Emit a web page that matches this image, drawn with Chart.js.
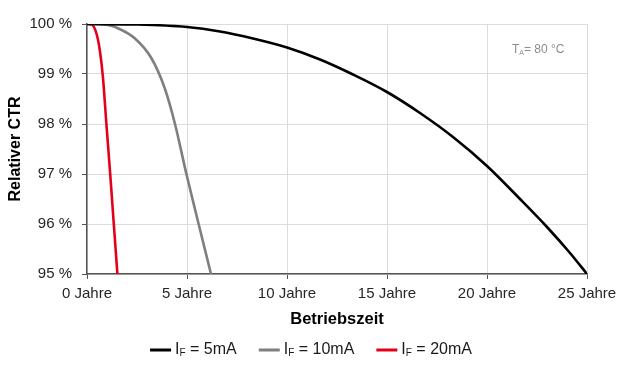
<!DOCTYPE html>
<html>
<head>
<meta charset="utf-8">
<script src="https://cdn.jsdelivr.net/npm/chart.js@4"></script>
<style>
  html, body { margin: 0; padding: 0; background: #fff; }
  #wrap { width: 630px; height: 370px; position: relative; }
</style>
</head>
<body>
<div id="wrap"><canvas id="chart"></canvas></div>
<script>
const FONT = '"Liberation Sans", Arial, sans-serif'

// Betriebszeit in Jahren / relativer CTR in %
const years5mA = [0, 2.5, 5, 6.65, 8.3, 10, 11.65, 13.3, 15, 16.65, 18.3, 20, 21.65, 23, 24.15, 25]
const ctr5mA = [100, 99.99, 99.94, 99.85, 99.71, 99.53, 99.29, 98.99, 98.64, 98.22, 97.74, 97.16, 96.5, 95.94, 95.42, 95]

const years10mA = [0, 0.9, 1.57, 2.4, 3.23, 3.9, 4.4, 4.97, 5.6, 6.2]
const ctr10mA = [100, 99.99, 99.91, 99.71, 99.31, 98.7, 98.0, 97, 95.97, 95]

const years20mA = [0, 0.23, 0.48, 0.65, 0.8, 0.97, 1.16, 1.34, 1.52]
const ctr20mA = [100, 99.99, 99.8, 99.45, 98.92, 98.0, 97, 96, 95]

const seriesNames = ['5mA', '10mA', '20mA']
const seriesColors = ['#000000', '#7f7f7f', '#e3001b']

const xTicks = [0, 5, 10, 15, 20, 25]
const yTicks = [95, 96, 97, 98, 99, 100]

const toPoints = (xs, ys) => xs.map((x, i) => ({ x: x, y: ys[i] }))

const datasets = [
  toPoints(years5mA, ctr5mA),
  toPoints(years10mA, ctr10mA),
  toPoints(years20mA, ctr20mA)
].map((pts, i) => ({
  label: 'IF = ' + seriesNames[i],
  data: pts,
  borderColor: seriesColors[i],
  backgroundColor: seriesColors[i],
  borderWidth: 2.6,
  pointRadius: 0,
  showLine: true,
  cubicInterpolationMode: 'monotone'
}))

// "I" with subscript "F" etc. drawn at (x, y), returns end x
const drawSub = (ctx, x, y, main, sub, rest, size) => {
  ctx.font = size + 'px ' + FONT
  ctx.fillText(main, x, y)
  x += ctx.measureText(main).width
  ctx.font = Math.round(size * 0.6) + 'px ' + FONT
  ctx.fillText(sub, x, y + size * 0.22)
  x += ctx.measureText(sub).width
  ctx.font = size + 'px ' + FONT
  ctx.fillText(rest, x, y)
  return x + ctx.measureText(rest).width
}

const subWidth = (ctx, main, sub, rest, size) => {
  ctx.font = size + 'px ' + FONT
  let w = ctx.measureText(main).width + ctx.measureText(rest).width
  ctx.font = Math.round(size * 0.6) + 'px ' + FONT
  return w + ctx.measureText(sub).width
}

const extras = {
  id: 'extras',
  afterDraw(chart) {
    const ctx = chart.ctx
    ctx.save()
    ctx.textBaseline = 'middle'
    ctx.textAlign = 'left'

    // T_A annotation
    ctx.fillStyle = '#8c8c8c'
    drawSub(ctx, 512, 50, 'T', 'A', '= 80 °C', 12)

    // legend
    const size = 16
    const lineW = 21, gapLine = 4, gapItem = 22
    const widths = seriesNames.map(n => subWidth(ctx, 'I', 'F', ' = ' + n, size))
    const total = widths.reduce((a, w) => a + lineW + gapLine + w, 0) + gapItem * (widths.length - 1)
    let x = 311 - total / 2
    const y = 350
    seriesNames.forEach((n, i) => {
      ctx.strokeStyle = seriesColors[i]
      ctx.lineWidth = 3
      ctx.beginPath()
      ctx.moveTo(x, y)
      ctx.lineTo(x + lineW, y)
      ctx.stroke()
      x += lineW + gapLine
      ctx.fillStyle = '#1a1a1a'
      x = drawSub(ctx, x, y, 'I', 'F', ' = ' + n, size) + gapItem
    })
    ctx.restore()
  }
}

new Chart(document.getElementById('chart'), {
  type: 'scatter',
  data: { datasets: datasets },
  options: {
    responsive: true,
    maintainAspectRatio: false,
    animation: false,
    layout: { padding: { left: 2, right: 43, top: 24, bottom: 37 } },
    plugins: {
      legend: { display: false },
      tooltip: { enabled: false }
    },
    scales: {
      x: {
        type: 'linear',
        min: 0,
        max: 25,
        afterBuildTicks: s => { s.ticks = xTicks.map(v => ({ value: v })) },
        afterFit: s => { s.height = 59 },
        ticks: {
          padding: 6,
          color: '#262626',
          font: { family: FONT, size: 15 },
          callback: v => v + ' Jahre'
        },
        grid: { color: '#dcdcdc', tickColor: '#555555', tickLength: 5, lineWidth: 1 },
        border: { color: '#555555', width: 1.5 },
        title: {
          display: true,
          text: 'Betriebszeit',
          color: '#000',
          font: { family: FONT, size: 16.5, weight: 'bold' },
          padding: { top: 4, bottom: 4 }
        }
      },
      y: {
        min: 95,
        max: 100,
        afterBuildTicks: s => { s.ticks = yTicks.map(v => ({ value: v })) },
        afterFit: s => { s.width = 85 },
        ticks: {
          padding: 10,
          color: '#262626',
          font: { family: FONT, size: 15 },
          callback: v => v + ' %'
        },
        grid: { color: '#dcdcdc', tickColor: '#555555', tickLength: 5, lineWidth: 1 },
        border: { color: '#555555', width: 1.5 },
        title: {
          display: true,
          text: 'Relativer CTR',
          color: '#000',
          font: { family: FONT, size: 16, weight: 'bold' },
          padding: { top: 4, bottom: 4 }
        }
      }
    }
  },
  plugins: [extras]
})
</script>
</body>
</html>
